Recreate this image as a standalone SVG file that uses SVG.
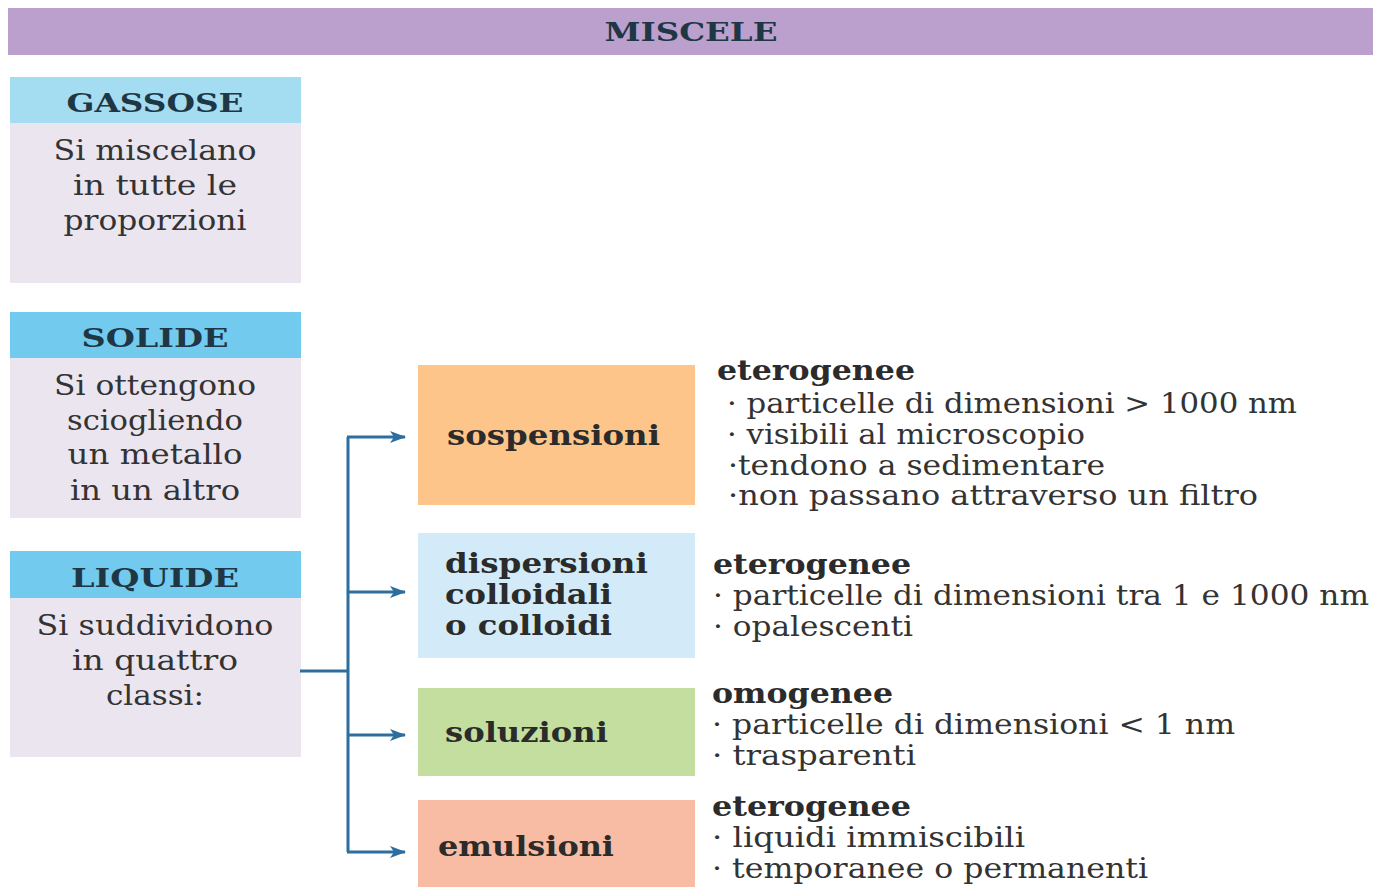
<svg xmlns="http://www.w3.org/2000/svg" width="1373" height="887" viewBox="0 0 1373 887">
<style>
text{font-family:"DejaVu Serif","Liberation Serif",serif}
.hd{font-weight:bold;font-size:26px;fill:#1f3645;text-anchor:middle}
.bd{font-size:27px;fill:#333;text-anchor:middle}
.lb{font-weight:bold;font-size:27px;fill:#2b2b2b}
.tx{font-size:27px;fill:#333}
.cn{fill:none;stroke:#2c6e9f;stroke-width:3}
</style>
<defs>
<marker id="ah" viewBox="0 0 16 12" refX="15" refY="6" markerWidth="16" markerHeight="12" markerUnits="userSpaceOnUse" orient="auto">
<path d="M0,0 L16,6 L0,12 L4,6 Z" fill="#2c6e9f"/>
</marker>
</defs>
<rect width="1373" height="887" fill="#ffffff"/>
<g id="miscele">
<rect x="8" y="8" width="1365" height="47" fill="#bba0cd"/>
<text class="hd" x="691" y="41" textLength="173" lengthAdjust="spacingAndGlyphs">MISCELE</text>
</g>
<g id="gassose">
<rect x="10" y="77" width="291" height="46" fill="#a4dcf1"/>
<rect x="10" y="123" width="291" height="160" fill="#ebe5f0"/>
<text class="hd" x="155" y="112" textLength="177" lengthAdjust="spacingAndGlyphs">GASSOSE</text>
<text class="bd" x="155" y="160" textLength="203" lengthAdjust="spacingAndGlyphs">Si miscelano</text>
<text class="bd" x="155" y="195" textLength="164" lengthAdjust="spacingAndGlyphs">in tutte le</text>
<text class="bd" x="155" y="230" textLength="183" lengthAdjust="spacingAndGlyphs">proporzioni</text>
</g>
<g id="solide">
<rect x="10" y="312" width="291" height="46" fill="#72caee"/>
<rect x="10" y="358" width="291" height="160" fill="#ebe5f0"/>
<text class="hd" x="155" y="347" textLength="147" lengthAdjust="spacingAndGlyphs">SOLIDE</text>
<text class="bd" x="155" y="395" textLength="202" lengthAdjust="spacingAndGlyphs">Si ottengono</text>
<text class="bd" x="155" y="430" textLength="176" lengthAdjust="spacingAndGlyphs">sciogliendo</text>
<text class="bd" x="155" y="464" textLength="175" lengthAdjust="spacingAndGlyphs">un metallo</text>
<text class="bd" x="155" y="500" textLength="170" lengthAdjust="spacingAndGlyphs">in un altro</text>
</g>
<g id="liquide">
<rect x="10" y="551" width="291" height="47" fill="#72caee"/>
<rect x="10" y="598" width="291" height="159" fill="#ebe5f0"/>
<text class="hd" x="155" y="587" textLength="168" lengthAdjust="spacingAndGlyphs">LIQUIDE</text>
<text class="bd" x="155" y="635" textLength="237" lengthAdjust="spacingAndGlyphs">Si suddividono</text>
<text class="bd" x="155" y="670" textLength="166" lengthAdjust="spacingAndGlyphs">in quattro</text>
<text class="bd" x="155" y="705" textLength="98" lengthAdjust="spacingAndGlyphs">classi:</text>
</g>
<g id="connectors">
<path class="cn" d="M300,671 H348"/>
<path class="cn" d="M348,437 V852"/>
<path class="cn" d="M347,437 H405" marker-end="url(#ah)"/>
<path class="cn" d="M347,592 H405" marker-end="url(#ah)"/>
<path class="cn" d="M347,735 H405" marker-end="url(#ah)"/>
<path class="cn" d="M347,852 H405" marker-end="url(#ah)"/>
</g>
<g id="sospensioni">
<rect x="418" y="365" width="277" height="140" fill="#fdc589"/>
<text class="lb" x="447" y="445" textLength="213" lengthAdjust="spacingAndGlyphs">sospensioni</text>
<text class="lb" x="717" y="380" textLength="198" lengthAdjust="spacingAndGlyphs">eterogenee</text>
<text class="tx" x="727" y="413" textLength="570" lengthAdjust="spacingAndGlyphs">· particelle di dimensioni &gt; 1000 nm</text>
<text class="tx" x="727" y="444" textLength="358" lengthAdjust="spacingAndGlyphs">· visibili al microscopio</text>
<text class="tx" x="728" y="475" textLength="377" lengthAdjust="spacingAndGlyphs">·tendono a sedimentare</text>
<text class="tx" x="728" y="505" textLength="530" lengthAdjust="spacingAndGlyphs">·non passano attraverso un filtro</text>
</g>
<g id="dispersioni">
<rect x="418" y="533" width="277" height="125" fill="#d3ebf9"/>
<text class="lb" x="445" y="573" textLength="203" lengthAdjust="spacingAndGlyphs">dispersioni</text>
<text class="lb" x="445" y="604" textLength="167" lengthAdjust="spacingAndGlyphs">colloidali</text>
<text class="lb" x="445" y="635" textLength="167" lengthAdjust="spacingAndGlyphs">o colloidi</text>
<text class="lb" x="713" y="574" textLength="198" lengthAdjust="spacingAndGlyphs">eterogenee</text>
<text class="tx" x="713" y="605" textLength="656" lengthAdjust="spacingAndGlyphs">· particelle di dimensioni tra 1 e 1000 nm</text>
<text class="tx" x="713" y="636" textLength="200" lengthAdjust="spacingAndGlyphs">· opalescenti</text>
</g>
<g id="soluzioni">
<rect x="418" y="688" width="277" height="88" fill="#c3de9e"/>
<text class="lb" x="445" y="742" textLength="163" lengthAdjust="spacingAndGlyphs">soluzioni</text>
<text class="lb" x="712" y="703" textLength="181" lengthAdjust="spacingAndGlyphs">omogenee</text>
<text class="tx" x="712" y="734" textLength="523" lengthAdjust="spacingAndGlyphs">· particelle di dimensioni &lt; 1 nm</text>
<text class="tx" x="712" y="765" textLength="204" lengthAdjust="spacingAndGlyphs">· trasparenti</text>
</g>
<g id="emulsioni">
<rect x="418" y="800" width="277" height="87" fill="#f7bca3"/>
<text class="lb" x="438" y="856" textLength="176" lengthAdjust="spacingAndGlyphs">emulsioni</text>
<text class="lb" x="712" y="816" textLength="199" lengthAdjust="spacingAndGlyphs">eterogenee</text>
<text class="tx" x="712" y="847" textLength="313" lengthAdjust="spacingAndGlyphs">· liquidi immiscibili</text>
<text class="tx" x="712" y="878" textLength="436" lengthAdjust="spacingAndGlyphs">· temporanee o permanenti</text>
</g>
</svg>
